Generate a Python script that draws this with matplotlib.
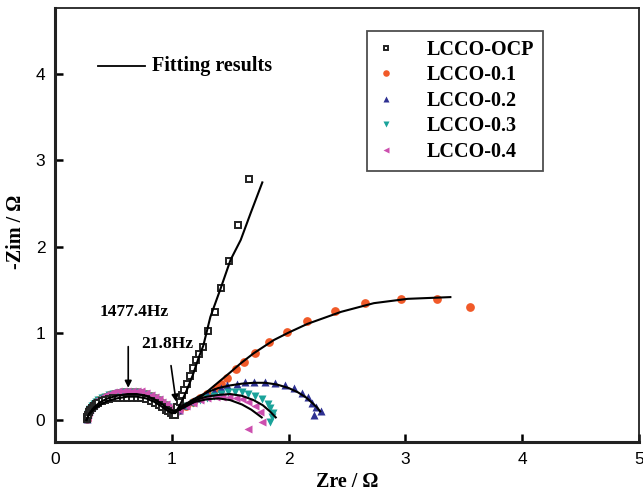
import matplotlib
matplotlib.use("Agg")
import matplotlib.pyplot as plt

# ---------------- data ----------------
# high-frequency semicircle (measured points, shared x positions)
arc_x = [0.27, 0.275, 0.28, 0.29, 0.30, 0.315, 0.33, 0.35, 0.37, 0.40, 0.43, 0.46, 0.50, 0.54, 0.58,
         0.62, 0.66, 0.70, 0.74, 0.78, 0.82, 0.86, 0.89, 0.92, 0.95, 0.97, 0.99, 1.01, 1.03]
arc_y_hi = [0.01, 0.04, 0.07, 0.10, 0.13, 0.16, 0.18, 0.21, 0.23, 0.25, 0.27, 0.29, 0.30, 0.31, 0.32,
            0.32, 0.32, 0.32, 0.31, 0.30, 0.28, 0.25, 0.23, 0.20, 0.17, 0.15, 0.12, 0.10, 0.10]
arc_y_pk = [0.02, 0.05, 0.08, 0.11, 0.14, 0.17, 0.19, 0.22, 0.24, 0.27, 0.29, 0.30, 0.32, 0.33, 0.34,
            0.34, 0.34, 0.33, 0.33, 0.31, 0.29, 0.27, 0.24, 0.21, 0.18, 0.15, 0.13, 0.11, 0.10]
arc_y_ocp = [0.01, 0.03, 0.06, 0.09, 0.11, 0.14, 0.16, 0.18, 0.20, 0.22, 0.23, 0.24, 0.25, 0.26, 0.26,
             0.26, 0.26, 0.26, 0.25, 0.24, 0.22, 0.20, 0.17, 0.15, 0.12, 0.10, 0.08, 0.06, 0.06]

ocp_tail_x = [1.045, 1.068, 1.088, 1.108, 1.131, 1.160, 1.183, 1.209, 1.237, 1.269, 1.309, 1.369, 1.418, 1.489, 1.566, 1.658]
ocp_tail_y = [0.15, 0.21, 0.29, 0.35, 0.42, 0.51, 0.60, 0.69, 0.76, 0.84, 1.03, 1.25, 1.52, 1.84, 2.25, 2.78]

p01_tail_x = [1.06, 1.12, 1.18, 1.24, 1.30, 1.375, 1.423, 1.469, 1.546, 1.618, 1.71, 1.833, 1.99, 2.16, 2.40, 2.652, 2.964, 3.273, 3.554]
p01_tail_y = [0.12, 0.16, 0.21, 0.25, 0.30, 0.37, 0.42, 0.49, 0.59, 0.67, 0.77, 0.905, 1.02, 1.14, 1.26, 1.35, 1.40, 1.40, 1.31]

p02_tail_x = [1.06, 1.12, 1.18, 1.24, 1.30, 1.36, 1.42, 1.475, 1.555, 1.626, 1.704, 1.795, 1.884, 1.965, 2.045, 2.115, 2.165, 2.20, 2.235, 2.275, 2.22]
p02_tail_y = [0.12, 0.17, 0.22, 0.26, 0.30, 0.34, 0.37, 0.405, 0.42, 0.44, 0.44, 0.44, 0.43, 0.41, 0.37, 0.315, 0.27, 0.20, 0.15, 0.105, 0.055]

p03_tail_x = [1.06, 1.12, 1.18, 1.24, 1.30, 1.36, 1.42, 1.48, 1.54, 1.60, 1.65, 1.71, 1.77, 1.82, 1.845, 1.865, 1.86, 1.84]
p03_tail_y = [0.12, 0.16, 0.20, 0.23, 0.26, 0.28, 0.30, 0.32, 0.32, 0.32, 0.30, 0.28, 0.24, 0.19, 0.14, 0.08, 0.03, -0.02]

p04_tail_x = [1.06, 1.12, 1.18, 1.24, 1.30, 1.375, 1.43, 1.49, 1.55, 1.60, 1.652, 1.71, 1.755, 1.776, 1.655]
p04_tail_y = [0.12, 0.16, 0.20, 0.23, 0.25, 0.27, 0.27, 0.27, 0.26, 0.24, 0.21, 0.16, 0.09, -0.02, -0.10]

# fitting curves
fit_arc_x = [0.27, 0.29, 0.33, 0.38, 0.45, 0.53, 0.62, 0.70, 0.78, 0.85, 0.91, 0.96, 1.00, 1.03]
fit_arc_y = [0.00, 0.07, 0.14, 0.20, 0.25, 0.28, 0.30, 0.30, 0.28, 0.24, 0.19, 0.14, 0.11, 0.10]
fit_ocp_x = [0.27, 0.29, 0.33, 0.38, 0.45, 0.53, 0.62, 0.70, 0.78, 0.85, 0.91, 0.96, 1.00, 1.03, 1.08, 1.13, 1.18, 1.23, 1.27, 1.33, 1.418, 1.503, 1.59, 1.675, 1.775]
fit_ocp_y = [0.00, 0.06, 0.12, 0.17, 0.22, 0.25, 0.27, 0.27, 0.25, 0.21, 0.16, 0.11, 0.08, 0.08, 0.20, 0.35, 0.52, 0.72, 0.86, 1.19, 1.52, 1.85, 2.08, 2.39, 2.745]
fit01_x = [1.03, 1.10, 1.18, 1.26, 1.34, 1.42, 1.50, 1.59, 1.70, 1.875, 2.00, 2.16, 2.45, 2.73, 3.02, 3.385]
fit01_y = [0.10, 0.14, 0.20, 0.28, 0.37, 0.46, 0.55, 0.655, 0.77, 0.925, 1.01, 1.11, 1.25, 1.35, 1.40, 1.42]
fit02_x = [1.03, 1.10, 1.20, 1.30, 1.40, 1.50, 1.60, 1.70, 1.80, 1.90, 2.00, 2.08, 2.15, 2.20, 2.24, 2.27]
fit02_y = [0.10, 0.17, 0.25, 0.32, 0.37, 0.40, 0.42, 0.43, 0.43, 0.41, 0.37, 0.32, 0.26, 0.20, 0.15, 0.10]
fit03_x = [1.03, 1.10, 1.20, 1.30, 1.40, 1.50, 1.60, 1.70, 1.78, 1.84, 1.89]
fit03_y = [0.10, 0.17, 0.23, 0.27, 0.29, 0.30, 0.28, 0.23, 0.17, 0.10, 0.03]
fit04_x = [1.03, 1.10, 1.20, 1.30, 1.40, 1.50, 1.60, 1.68, 1.73, 1.77]
fit04_y = [0.10, 0.16, 0.21, 0.24, 0.25, 0.23, 0.18, 0.12, 0.07, 0.03]

labels = ["LCCO-OCP", "LCCO-0.1", "LCCO-0.2", "LCCO-0.3", "LCCO-0.4"]
colors = ["#222222", "#f15a29", "#2e3192", "#1aa39a", "#cc4fae"]
markers = ["s", "o", "^", "v", "<"]
xticks = [0, 1, 2, 3, 4, 5]
yticks = [0, 1, 2, 3, 4]

# ---------------- figure ----------------
serif = ["Liberation Serif", "DejaVu Serif"]
sans = ["Liberation Sans", "DejaVu Sans"]

fig = plt.figure(figsize=(6.43, 4.94), dpi=100)
ax = fig.add_axes([55 / 643, 52 / 494, 584 / 643, 434 / 494])

series_x = [arc_x + ocp_tail_x, arc_x + p01_tail_x, arc_x + p02_tail_x, arc_x + p03_tail_x, arc_x + p04_tail_x]
series_y = [arc_y_ocp + ocp_tail_y, arc_y_hi + p01_tail_y, arc_y_hi + p02_tail_y, arc_y_hi + p03_tail_y, arc_y_pk + p04_tail_y]

artists = {}
for i in [1, 2, 3, 4, 0]:
    if i == 0:
        h, = ax.plot(series_x[i], series_y[i], ls="none", marker="s", ms=4.4,
                     mfc="white", mec=colors[i], mew=1.4, label=labels[i], zorder=3)
    else:
        h, = ax.plot(series_x[i], series_y[i], ls="none", marker=markers[i], ms=6.3,
                     color=colors[i], mec="none", label=labels[i], zorder=2)
    artists[i] = h
handles = [artists[k] for k in range(5)]

for fx, fy in [(fit_ocp_x, fit_ocp_y), (fit_arc_x, fit_arc_y), (fit01_x, fit01_y),
               (fit02_x, fit02_y), (fit03_x, fit03_y), (fit04_x, fit04_y)]:
    ax.plot(fx, fy, color="black", lw=1.5, zorder=4)

ax.set_xlim(0, 5)
ax.set_ylim(-0.254, 4.76)
ax.set_xticks(xticks)
ax.set_yticks(yticks)
ax.set_xticklabels([str(t) for t in xticks], family=sans, fontsize=12.5)
ax.set_yticklabels([str(t) for t in yticks], family=sans, fontsize=12.5)
ax.tick_params(direction="in", length=6, width=1.8, top=False, right=False, pad=7)

for side, lw in [("left", 2.2), ("bottom", 2.2), ("right", 1.3), ("top", 1.3)]:
    ax.spines[side].set_linewidth(lw)
    ax.spines[side].set_color("#222222")

ax.set_xlabel("Zre / Ω", family=serif, fontweight="bold", fontsize=14.5)
ax.set_ylabel("-Zim / Ω", family=serif, fontweight="bold", fontsize=14.5)
ax.xaxis.set_label_coords(0.5, -0.068)
ax.yaxis.set_label_coords(-0.05, 0.485)

leg = ax.legend(handles=handles, labels=labels, loc="upper left",
                bbox_to_anchor=(312 / 584, 1 - 23 / 434), frameon=True, fancybox=False,
                edgecolor="#222222", prop={"family": serif, "weight": "bold", "size": 14.5},
                handlelength=1.0, handletextpad=1.5, borderpad=0.45, labelspacing=0.27,
                markerscale=0.75, borderaxespad=0)
leg.get_frame().set_linewidth(1.3)

# "Fitting results" key
ax.plot([0.37, 0.77], [4.09, 4.09], color="black", lw=1.3)
ax.text(0.83, 4.09, "Fitting results", family=serif, fontweight="bold", fontsize=14.5,
        va="center", ha="left")

# frequency annotations
ax.annotate("", xy=(0.627, 0.34), xytext=(0.627, 0.88),
            arrowprops=dict(arrowstyle="-|>", color="black", lw=1.2, mutation_scale=10))
ax.text(0.68, 1.25, "1477.4Hz", family=serif, fontweight="bold", fontsize=12.5,
        ha="center", va="center")
ax.annotate("", xy=(1.04, 0.18), xytext=(0.99, 0.66),
            arrowprops=dict(arrowstyle="-|>", color="black", lw=1.2, mutation_scale=10))
ax.text(0.96, 0.88, "21.8Hz", family=serif, fontweight="bold", fontsize=12.5,
        ha="center", va="center")

fig.savefig("out.png", dpi=100)
